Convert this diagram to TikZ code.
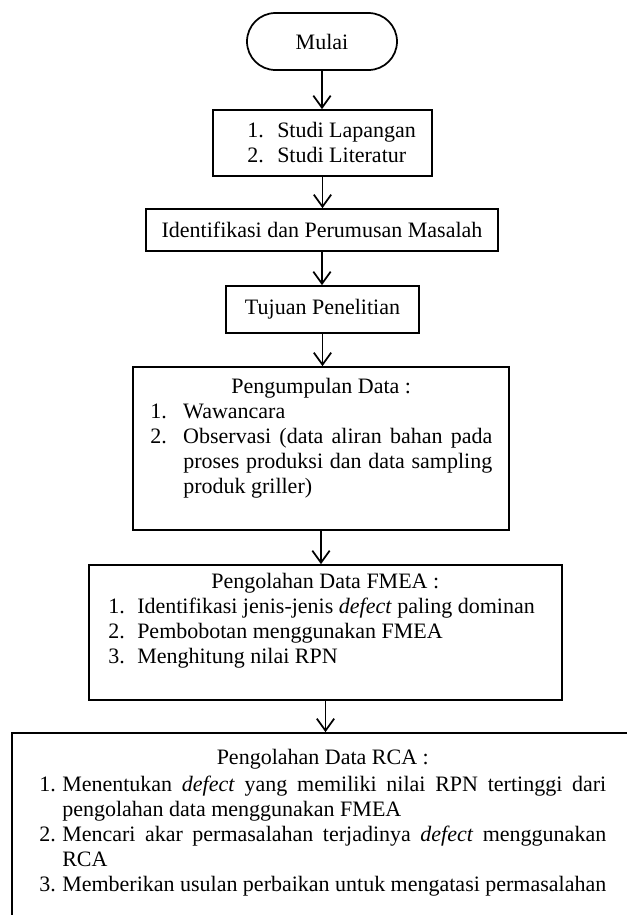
\documentclass[tikz,border=0pt]{standalone}
\usepackage{fontspec}
\setmainfont{Liberation Serif}
\usetikzlibrary{arrows.meta,shapes.misc}
\hyphenpenalty=10000
\exhyphenpenalty=10000
\tolerance=10000
\newcommand\litem[3]{\hangindent=#1\hangafter=1\makebox[#1][l]{#2}#3\par}
\tikzset{
  box/.style={draw,rectangle,line width=1.3pt,inner sep=0pt},
  term/.style={draw,rounded rectangle,line width=1.3pt,inner sep=0pt},
  txt/.style={inner sep=0pt,align=left},
  flow/.style={line width=1.3pt,-{Straight Barb[length=9pt,width=13pt,line width=1.3pt]}},
  every node/.style={font=\fontsize{16.5pt}{18.75pt}\selectfont}
}
\begin{document}
\begin{tikzpicture}[x=0.75pt,y=-0.75pt]
\clip (0,0) rectangle (627,915);
\fill[white] (0,0) rectangle (627,915);
\node[term,minimum width=112.5pt,minimum height=42.75pt] (mulai) at (322,41.5) {Mulai};
\node[box,minimum width=164.25pt,minimum height=49.5pt] (b1) at (322.5,143) {};
\node[box,minimum width=264pt,minimum height=31.5pt] (b2) at (322,230) {Identifikasi dan Perumusan Masalah};
\node[box,minimum width=144.75pt,minimum height=35.25pt] (b3) at (322.5,309.5) {Tujuan Penelitian};
\node[box,minimum width=282pt,minimum height=122.25pt] (b4) at (321,448.5) {};
\node[box,minimum width=354.75pt,minimum height=101.25pt] (b5) at (325.5,632.5) {};
\node[box,minimum width=474.75pt,minimum height=151.5pt] (b6) at (328.5,834) {};
% texts
\node[txt,anchor=west] (t1) at (247,143) {\parbox{129.75pt}{%
\litem{22.5pt}{1.}{Studi Lapangan}%
\litem{22.5pt}{2.}{Studi Literatur}}};
\node[txt,anchor=base west] (t4) at (150,393) {\parbox[t]{256.5pt}{%
{\centering Pengumpulan Data :\par}%
\litem{24.75pt}{1.}{Wawancara}%
\litem{24.75pt}{2.}{Observasi (data aliran bahan pada proses produksi dan data sampling produk griller)}}};
\node[txt,anchor=base west] (t5) at (108,588) {\parbox[t]{325.5pt}{%
{\centering Pengolahan Data FMEA :\par}%
\litem{21.75pt}{1.}{Identifikasi jenis-jenis \textit{defect} paling dominan}%
\litem{21.75pt}{2.}{Pembobotan menggunakan FMEA}%
\litem{21.75pt}{3.}{Menghitung nilai RPN}}};
\node[txt,anchor=base west] (t6) at (39,764) {\parbox[t]{425.25pt}{%
{\centering Pengolahan Data RCA :\par}\vspace{2pt}%
\litem{17.25pt}{1.}{Menentukan \textit{defect} yang memiliki nilai RPN tertinggi dari pengolahan data menggunakan FMEA}%
\litem{17.25pt}{2.}{Mencari akar permasalahan terjadinya \textit{defect} menggunakan RCA}%
\litem{17.25pt}{3.}{Memberikan usulan perbaikan untuk mengatasi permasalahan}}};
% connectors
\draw[flow] (mulai.south) -- (mulai.south |- b1.north);
\draw[flow] (b1.south) -- (b1.south |- b2.north);
\draw[flow] (b2.south) -- (b2.south |- b3.north);
\draw[flow] (b3.south) -- (b3.south |- b4.north);
\draw[flow] (b4.south) -- (b4.south |- b5.north);
\draw[flow] (b5.south) -- (b5.south |- b6.north);
\end{tikzpicture}
\end{document}
